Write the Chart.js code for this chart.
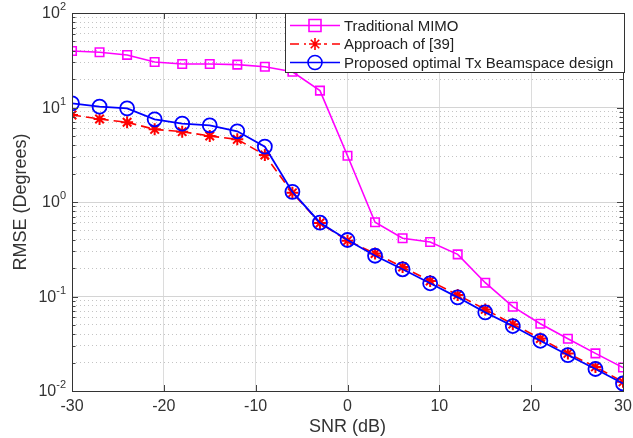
<!DOCTYPE html>
<html>
<head>
<meta charset="utf-8">
<script src="https://cdn.jsdelivr.net/npm/chart.js@4/dist/chart.umd.min.js"></script>
<style>
  html, body { margin: 0; padding: 0; background: #fff; }
  #wrap { width: 633px; height: 438px; }
</style>
</head>
<body>
<div id="wrap"><canvas id="myChart" width="633" height="438"></canvas></div>
<script>
// --- Data ---
const snr = [-30, -27, -24, -21, -18, -15, -12, -9, -6, -3, 0, 3, 6, 9, 12, 15, 18, 21, 24, 27, 30]
const mimo = [39.6, 38.4, 36, 30.3, 28.9, 28.9, 28.4, 27, 23.9, 15.1, 3.09, 0.61, 0.413, 0.377, 0.279, 0.14, 0.078, 0.0515, 0.0357, 0.025, 0.0177]
const approach39 = [8.33, 7.56, 6.97, 5.87, 5.55, 4.99, 4.6, 3.14, 1.25, 0.6, 0.39, 0.285, 0.205, 0.146, 0.104, 0.073, 0.051, 0.036, 0.025, 0.018, 0.0125]
const proposed = [11.07, 10.2, 9.8, 7.5, 6.75, 6.47, 5.6, 3.85, 1.28, 0.604, 0.396, 0.27, 0.194, 0.138, 0.098, 0.068, 0.0487, 0.034, 0.024, 0.0171, 0.012]
const xTicks = [-30, -20, -10, 0, 10, 20, 30]
const yDecades = [-2, -1, 0, 1, 2]
const legendLabels = ['Traditional MIMO', 'Approach of [39]', 'Proposed optimal Tx Beamspace design']

const ctx = document.getElementById('myChart').getContext('2d')
const FONT = '"Liberation Sans", Arial, Helvetica, sans-serif'
const TXT = '#333'

function pts(arr) {
    return snr.map((x, i) => ({ x: x, y: arr[i] }))
}

function isDecade(v) {
    const l = Math.log10(v)
    return Math.abs(l - Math.round(l)) < 1e-9
}

// all minor ticks 1..9 per decade
let yTicks = []
for (let d = -2; d < 2; d++) {
    for (let m = 1; m < 10; m++) yTicks.push(m * Math.pow(10, d))
}
yTicks.push(100)

// --- Box, tick marks, y labels and legend ---
const boxLegend = {
    id: 'boxLegend',
    afterDraw(chart) {
        const c = chart.ctx
        const a = chart.chartArea
        const ys = chart.scales.y, xs = chart.scales.x
        c.save()

        // inner tick marks
        c.strokeStyle = '#444'
        c.lineWidth = 1
        c.beginPath()
        yTicks.forEach(v => {
            const y = Math.round(ys.getPixelForValue(v)) + 0.5
            const len = isDecade(v) ? 6 : 3.5
            c.moveTo(a.left, y); c.lineTo(a.left + len, y)
            c.moveTo(a.right, y); c.lineTo(a.right - len, y)
        })
        xTicks.forEach(v => {
            const x = Math.round(xs.getPixelForValue(v)) + 0.5
            c.moveTo(x, a.bottom); c.lineTo(x, a.bottom - 6)
            c.moveTo(x, a.top); c.lineTo(x, a.top + 6)
        })
        c.stroke()

        c.strokeStyle = '#333'
        c.strokeRect(a.left + 0.5, a.top + 0.5, a.right - a.left, a.bottom - a.top)

        // y tick labels 10^n
        c.fillStyle = TXT
        c.textAlign = 'right'
        c.textBaseline = 'middle'
        yDecades.forEach(d => {
            const y = ys.getPixelForValue(Math.pow(10, d))
            const e = String(d)
            c.font = '11px ' + FONT
            const w = c.measureText(e).width
            c.fillText(e, 66, y - 6)
            c.font = '16px ' + FONT
            c.fillText('10', 66 - w, y + 1)
        })
        c.textAlign = 'left'

        // legend box
        const lx = 285, ly = 13, lw = 339, lh = 59
        c.fillStyle = '#fff'
        c.fillRect(lx, ly, lw, lh)
        c.strokeStyle = '#333'
        c.strokeRect(lx + 0.5, ly + 0.5, lw, lh)

        const rows = [25.5, 44, 62.5]
        chart.data.datasets.forEach((ds, i) => {
            const y = rows[i]
            c.strokeStyle = ds.borderColor
            c.lineWidth = 1.6
            c.setLineDash(ds.borderDash || [])
            c.beginPath()
            c.moveTo(290, y)
            c.lineTo(340, y)
            c.stroke()
            c.setLineDash([])
            if (ds.borderDash) {
                c.fillStyle = '#fff'
                c.fillRect(306, y - 3, 18, 6)
            }
            c.lineWidth = 1.6
            const cx = 315, r = ds.pointRadius
            c.beginPath()
            if (ds.pointStyle === 'rect') {
                c.rect(cx - r, y - r, 2 * r, 2 * r)
            } else if (ds.pointStyle === 'circle') {
                c.arc(cx, y, r, 0, Math.PI * 2)
            } else {
                for (let k = 0; k < 4; k++) {
                    const ang = k * Math.PI / 4
                    c.moveTo(cx - r * Math.cos(ang), y - r * Math.sin(ang))
                    c.lineTo(cx + r * Math.cos(ang), y + r * Math.sin(ang))
                }
            }
            c.stroke()
            c.fillStyle = '#222'
            c.font = '15px ' + FONT
            c.textBaseline = 'middle'
            c.fillText(legendLabels[i], 344, y + 1)
        })
        c.restore()
    }
}

// --- Chart ---
const myChart = new Chart(ctx, {
    type: 'line',
    data: {
        datasets: [{
            label: legendLabels[0],
            data: pts(mimo),
            borderColor: '#ff00ff',
            backgroundColor: 'rgba(0,0,0,0)',
            borderWidth: 1.6,
            pointStyle: 'rect',
            pointRadius: 6,
            pointBorderWidth: 1.6,
            order: 2
        }, {
            label: legendLabels[1],
            data: pts(approach39),
            borderColor: '#ff0000',
            backgroundColor: 'rgba(0,0,0,0)',
            borderWidth: 1.6,
            borderDash: [9, 5],
            pointStyle: 'star',
            pointRadius: 6,
            pointBorderWidth: 2,
            order: 1
        }, {
            label: legendLabels[2],
            data: pts(proposed),
            borderColor: '#0000ff',
            backgroundColor: 'rgba(0,0,0,0)',
            borderWidth: 1.8,
            pointStyle: 'circle',
            pointRadius: 7,
            pointBorderWidth: 1.8,
            order: 0
        }]
    },
    options: {
        responsive: false,
        animation: false,
        layout: { padding: { top: 13, right: 10, left: 0, bottom: 0 } },
        plugins: {
            legend: { display: false },
            tooltip: { enabled: false }
        },
        scales: {
            x: {
                type: 'linear',
                min: -30,
                max: 30,
                afterBuildTicks: s => { s.ticks = xTicks.map(v => ({ value: v })) },
                afterFit: s => { s.height = 47; s.paddingLeft = 0; s.paddingRight = 0 },
                grid: { color: '#dcdcdc', lineWidth: 1, drawTicks: false },
                border: { display: false },
                ticks: {
                    color: TXT,
                    font: { family: FONT, size: 16 },
                    padding: 6,
                    maxRotation: 0
                },
                title: {
                    display: true,
                    text: 'SNR (dB)',
                    color: TXT,
                    font: { family: FONT, size: 18 },
                    padding: { top: 0, bottom: 0 }
                }
            },
            y: {
                type: 'logarithmic',
                min: 0.01,
                max: 100,
                afterBuildTicks: s => { s.ticks = yTicks.map(v => ({ value: v })) },
                afterFit: s => { s.width = 72; s.paddingTop = 0; s.paddingBottom = 0 },
                grid: {
                    color: c => (c.tick && isDecade(c.tick.value)) ? '#d4d4d4' : '#c4c4c4',
                    lineWidth: 1,
                    drawTicks: false
                },
                border: {
                    display: false,
                    dash: c => (c.tick && !isDecade(c.tick.value)) ? [1, 3] : []
                },
                ticks: {
                    color: TXT,
                    font: { family: FONT, size: 16 },
                    padding: 5,
                    autoSkip: false,
                    callback: () => ''
                },
                title: {
                    display: true,
                    text: 'RMSE (Degrees)',
                    color: TXT,
                    font: { family: FONT, size: 18 },
                    padding: { top: 10, bottom: 0 }
                }
            }
        }
    },
    plugins: [boxLegend]
})
</script>
</body>
</html>
